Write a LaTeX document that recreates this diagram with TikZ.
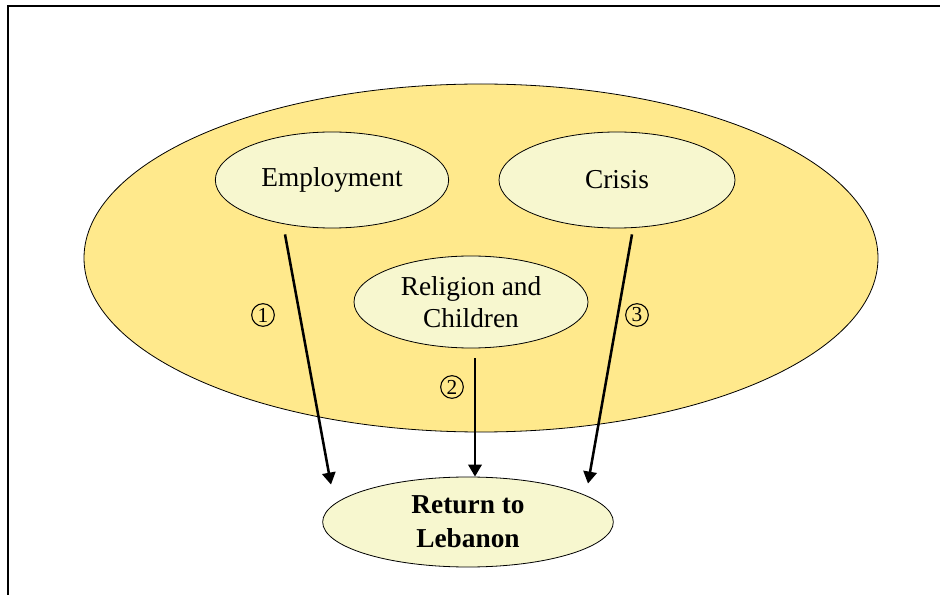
\documentclass[tikz,border=0pt]{standalone}
\usepackage{fontspec}
\setmainfont{Liberation Serif}
\usetikzlibrary{arrows.meta, shapes.geometric}
\definecolor{outeryellow}{HTML}{FFE98C}
\definecolor{innercream}{HTML}{F7F7CF}

\begin{document}
\begin{tikzpicture}[x=0.75pt, y=-0.75pt,
    factor/.style={ellipse, draw=black, line width=0.6pt, fill=innercream,
      inner sep=0pt, align=center, font=\fontsize{20.5}{24.5}\selectfont},
    flow/.style={-{Triangle[length=9pt, width=10pt]}, line width=1.9pt},
    numlabel/.style={circle, draw=black, line width=0.8pt, inner sep=0pt,
      minimum size=17pt, font=\fontsize{16}{18}\selectfont}]
    \useasboundingbox (0,0) rectangle (940,595);
    % Frame
    \draw[line width=1.3pt] (8,595) -- (8,6) -- (940,6);
    % Outer ellipse
    \node[ellipse, draw=black, line width=0.6pt, fill=outeryellow,
      minimum width=595.5pt, minimum height=261pt] (outer) at (481,258) {};
    % Factors
    \node[factor, minimum width=175pt, minimum height=72pt] (emp) at (332,180)
      {Employment};
    \node[factor, minimum width=177pt, minimum height=72pt] (cri) at (617,180)
      {Crisis};
    \node[factor, minimum width=175.5pt, minimum height=69pt] (rel) at (471,302)
      {Religion and\\Children};
    % Outcome
    \node[factor, minimum width=218pt, minimum height=67.5pt,
      font=\fontsize{20.5}{25.5}\selectfont\bfseries] (ret) at (468,522)
      {Return to\\Lebanon};
    % Flows
    \draw[flow] ([shift={(-47,6)}]emp.south) -- ([shift={(-137,8)}]ret.north);
    \draw[flow] ([shift={(4,10)}]rel.south) -- ([shift={(7,0)}]ret.north);
    \draw[flow] ([shift={(15,6)}]cri.south) -- ([shift={(120,7)}]ret.north);
    % Numbers
    \node[numlabel] (n1) at (263,315) {1};
    \node[numlabel] (n2) at (452,387) {2};
    \node[numlabel] (n3) at (637,315) {3};
\end{tikzpicture}
\end{document}
